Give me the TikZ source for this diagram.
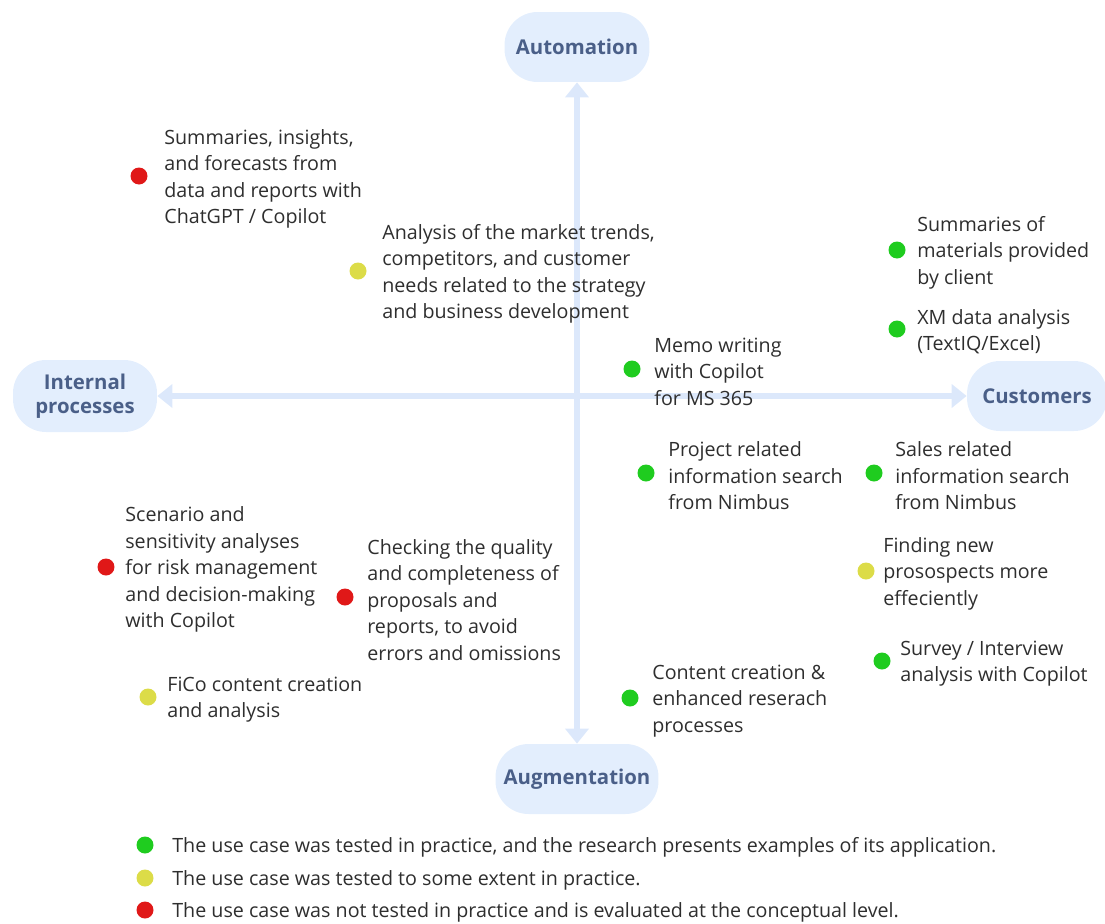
\documentclass[tikz,border=0pt]{standalone}
\usepackage{fontspec}
\setmainfont{Open Sans}
\usetikzlibrary{arrows.meta}

\definecolor{bubble}{HTML}{E3EEFD}
\definecolor{axisblue}{HTML}{DCE8FB}
\definecolor{labelblue}{HTML}{4A5F88}
\definecolor{txtgray}{HTML}{2E2E2E}
\definecolor{ucgreen}{HTML}{1FCC1F}
\definecolor{ucyellow}{HTML}{DCDC48}
\definecolor{ucred}{HTML}{E01818}

\tikzset{
  pole/.style={fill=bubble, rounded corners=0.66cm, minimum height=1.4cm,
    align=center, text=labelblue, font=\fontsize{11.6}{14}\selectfont\bfseries, inner sep=0pt},
  txt/.style={anchor=west, align=left, inner sep=0pt, text=txtgray, yshift=-0.055cm,
    font=\fontsize{11.2}{15.1}\selectfont},
  dot/.style={circle, inner sep=0pt, minimum size=0.34cm},
  axis/.style={draw=axisblue, line width=0.12cm,
    {Triangle[width=0.46cm,length=0.3cm]}-{Triangle[width=0.46cm,length=0.3cm]}}
}

\begin{document}
\begin{tikzpicture}[x=0.02cm,y=-0.02cm]
\useasboundingbox (0,0) rectangle (1105,923);

% the four poles
\node[pole, minimum width=2.9cm] (auto) at (577,47) {Automation};
\node[pole, minimum width=3.26cm] (augm) at (577,779) {Augmentation};
\node[pole, minimum width=2.88cm, minimum height=1.44cm] (intp) at (85,396) {Internal\\processes};
\node[pole, minimum width=2.8cm] (cust) at (1037,396) {Customers};

\draw[axis] (auto) -- (augm);
\draw[axis] (intp) -- (cust);

% use cases
\node[dot, fill=ucred] (d1) at (139,176) {};
\node[txt] (t1) at (164,176) {Summaries, insights,\\and forecasts from\\data and reports with\\ChatGPT / Copilot};

\node[dot, fill=ucyellow] (d2) at (358,271) {};
\node[txt] (t2) at (382,271) {Analysis of the market trends,\\competitors, and customer\\needs related to the strategy\\and business development};

\node[dot, fill=ucgreen] (d3) at (897,250) {};
\node[txt] (t3) at (917,250) {Summaries of\\materials provided\\by client};

\node[dot, fill=ucgreen] (d4) at (897,329) {};
\node[txt] (t4) at (917,329) {XM data analysis\\(TextIQ/Excel)};

\node[dot, fill=ucgreen] (d5) at (632,369) {};
\node[txt] (t5) at (654,369) {Memo writing\\with Copilot\\for MS 365};

\node[dot, fill=ucgreen] (d6) at (646,473) {};
\node[txt] (t6) at (668,473) {Project related\\information search\\from Nimbus};

\node[dot, fill=ucgreen] (d7) at (874,473) {};
\node[txt] (t7) at (895,473) {Sales related\\information search\\from Nimbus};

\node[dot, fill=ucred] (d8) at (106,567) {};
\node[txt] (t8) at (125,567) {Scenario and\\sensitivity analyses\\for risk management\\and decision-making\\with Copilot};

\node[dot, fill=ucred] (d9) at (345,597) {};
\node[txt] (t9) at (367,597) {Checking the quality\\and completeness of\\proposals and\\reports, to avoid\\errors and omissions};

\node[dot, fill=ucyellow] (d10) at (866,571) {};
\node[txt] (t10) at (883,571) {Finding new\\prosospects more\\effeciently};

\node[dot, fill=ucgreen] (d11) at (882,661) {};
\node[txt] (t11) at (900,661) {Survey / Interview\\analysis with Copilot};

\node[dot, fill=ucyellow] (d12) at (148,697) {};
\node[txt] (t12) at (167,697) {FiCo content creation\\and analysis};

\node[dot, fill=ucgreen] (d13) at (630,698) {};
\node[txt] (t13) at (652,698) {Content creation \&\\enhanced reserach\\processes};

% legend
\node[dot, fill=ucgreen] (lg) at (145,845) {};
\node[txt] (lgt) at (172,845) {The use case was tested in practice, and the research presents examples of its application.};
\node[dot, fill=ucyellow] (ly) at (145,878) {};
\node[txt] (lyt) at (172,878) {The use case was tested to some extent in practice.};
\node[dot, fill=ucred] (lr) at (145,910) {};
\node[txt] (lrt) at (172,910) {The use case was not tested in practice and is evaluated at the conceptual level.};

\end{tikzpicture}
\end{document}
